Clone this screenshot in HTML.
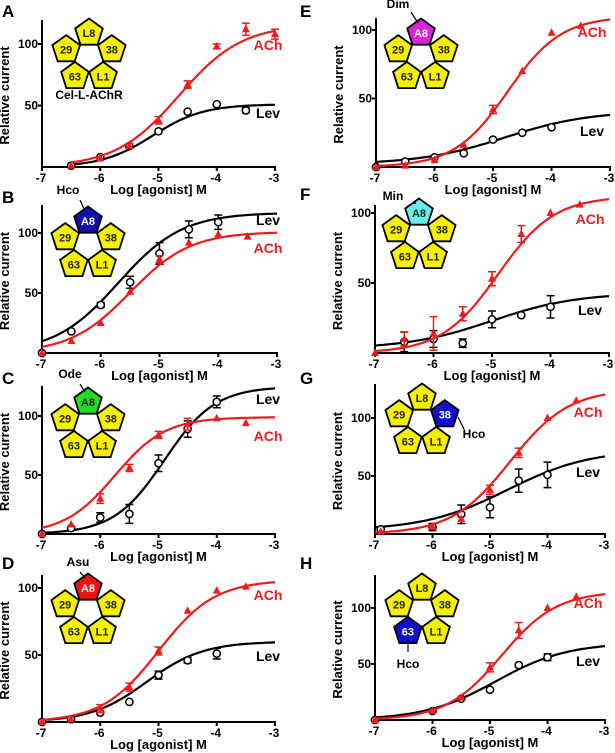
<!DOCTYPE html>
<html><head><meta charset="utf-8">
<style>
html,body{margin:0;padding:0;background:#fff;}
svg{display:block;font-family:"Liberation Sans",Arial,sans-serif;}
</style></head>
<body>
<svg id="fig" width="615" height="753" viewBox="0 0 615 753" xmlns="http://www.w3.org/2000/svg"></svg>
<script>
// ---- data (x = log[agonist] M, y = relative current) ----
const A_ach_x=[-6.5,-6,-5.5,-5,-4.5,-4,-3.5,-3];
const A_ach_y=[1,7,17,38,67,98,112,108];
const A_ach_e=[0,0,2,3,3,2,5,4];
const A_ach_fit=[0,116,-4.65,0.8];
const A_lev_x=[-6.5,-6,-5.5,-5,-4.5,-4,-3.5];
const A_lev_y=[1,8,17,29,45,51,46];
const A_lev_e=[0,0,0,0,0,0,2];
const A_lev_fit=[0,51,-5.1,1.0];

const B_ach_x=[-7,-6.5,-6,-5.5,-5,-4.5,-4,-3.5];
const B_ach_y=[0,10,25,51,78,92,99,97];
const B_ach_e=[0,0,0,0,3,0,0,0];
const B_ach_fit=[0,101,-5.5,0.85];
const B_lev_x=[-7,-6.5,-6,-5.5,-5,-4.5,-4];
const B_lev_y=[0,18,40,59,83,103,109];
const B_lev_e=[0,0,2,5,9,7,6];
const B_lev_fit=[0,117,-5.7,0.8];

const C_ach_x=[-7,-6.5,-6,-5.5,-5,-4.5,-4,-3.5];
const C_ach_y=[0,8,30,56,84,93,98,94];
const C_ach_e=[0,0,4,3,3,5,0,0];
const C_ach_fit=[0,99,-5.75,1.0];
const C_lev_x=[-7,-6.5,-6,-5.5,-5,-4.5,-4];
const C_lev_y=[0,5,14,17,60,89,112];
const C_lev_e=[0,0,4,8,7,7,5];
const C_lev_fit=[0,125,-4.9,1.0];

const D_ach_x=[-7,-6.5,-6,-5.5,-5,-4.5,-4,-3.5];
const D_ach_y=[0,2,10,26,53,83,98,101];
const D_ach_e=[0,0,3,3,3,0,0,0];
const D_ach_fit=[0,106,-5.0,0.9];
const D_lev_x=[-7,-6.5,-6,-5.5,-5,-4.5,-4];
const D_lev_y=[0,2,7,15,35,46,51];
const D_lev_e=[0,0,0,0,3,2,4];
const D_lev_fit=[0,60,-5.2,0.9];

const E_ach_x=[-7,-6.5,-6,-5.5,-5,-4.5,-4,-3.5];
const E_ach_y=[0,1,5,16,42,70,98,103];
const E_ach_e=[0,0,0,0,3,0,0,0];
const E_ach_fit=[0,110,-4.75,0.95];
const E_lev_x=[-7,-6.5,-6,-5.5,-5,-4.5,-4];
const E_lev_y=[0,4,7,10,20,25,29];
const E_lev_e=[0,0,0,0,0,0,0];
const E_lev_fit=[2,41,-4.8,0.6];

const F_ach_x=[-7,-6.5,-6,-5.5,-5,-4.5,-4,-3.5];
const F_ach_y=[0,10,14,28,53,85,100,106];
const F_ach_e=[0,5,12,5,5,6,0,0];
const F_ach_fit=[0,112,-4.9,0.9];
const F_lev_x=[-6.5,-6,-5.5,-5,-4.5,-4];
const F_lev_y=[8,10,7,24,27,33];
const F_lev_e=[7,6,3,6,0,8];
const F_lev_fit=[3,43,-5.0,0.6];

const G_ach_x=[-6.9,-6,-5.5,-5,-4.5,-4,-3.5];
const G_ach_y=[2,6,13,38,70,100,115];
const G_ach_e=[0,0,0,4,4,0,0];
const G_ach_fit=[0,125,-4.65,0.85];
const G_lev_x=[-6.9,-6,-5.5,-5,-4.5,-4];
const G_lev_y=[4,6,17,23,46,51];
const G_lev_e=[2,3,8,9,10,11];
const G_lev_fit=[3,73,-4.7,0.6];

const H_ach_x=[-7,-6,-5.5,-5,-4.5,-4,-3.5];
const H_ach_y=[0,8,20,47,80,100,110];
const H_ach_e=[0,0,0,4,7,0,0];
const H_ach_fit=[0,115,-4.8,0.9];
const H_lev_x=[-7,-6,-5.5,-5,-4.5,-4];
const H_lev_y=[0,8,19,27,49,56];
const H_lev_e=[0,0,0,0,0,3];
const H_lev_fit=[0,69,-4.9,0.7];

const xTicks=[-7,-6,-5,-4,-3];
const yTicks=[50,100];

const DATA={
 A:[A_ach_x,A_ach_y,A_ach_e,A_ach_fit,A_lev_x,A_lev_y,A_lev_e,A_lev_fit],
 B:[B_ach_x,B_ach_y,B_ach_e,B_ach_fit,B_lev_x,B_lev_y,B_lev_e,B_lev_fit],
 C:[C_ach_x,C_ach_y,C_ach_e,C_ach_fit,C_lev_x,C_lev_y,C_lev_e,C_lev_fit],
 D:[D_ach_x,D_ach_y,D_ach_e,D_ach_fit,D_lev_x,D_lev_y,D_lev_e,D_lev_fit],
 E:[E_ach_x,E_ach_y,E_ach_e,E_ach_fit,E_lev_x,E_lev_y,E_lev_e,E_lev_fit],
 F:[F_ach_x,F_ach_y,F_ach_e,F_ach_fit,F_lev_x,F_lev_y,F_lev_e,F_lev_fit],
 G:[G_ach_x,G_ach_y,G_ach_e,G_ach_fit,G_lev_x,G_lev_y,G_lev_e,G_lev_fit],
 H:[H_ach_x,H_ach_y,H_ach_e,H_ach_fit,H_lev_x,H_lev_y,H_lev_e,H_lev_fit]
};

// ---- layout ----
const PANELS=[
 {id:'A',x0:42,x1:275,base:167,y100:44,top:20,lx:2,ly:17,ring:[89,57],cols:['y','y','y','y','y'],achL:[268,50],levL:[268,118],cel:true,achStart:-6.5},
 {id:'B',x0:42,x1:277,base:353,y100:233,top:205,lx:2,ly:203,ring:[88,245],cols:['#1010b0','y','y','y','y'],tag:['Hco',68,194,80,200],achL:[268,253],levL:[268,225]},
 {id:'C',x0:42,x1:275,base:534,y100:416,top:386,lx:2,ly:384,ring:[88,426],cols:['#22dd22','y','y','y','y'],tag:['Ode',70,378,80,384],achL:[268,441],levL:[268,404],a8dark:true},
 {id:'D',x0:42,x1:275,base:722,y100:588,top:575,lx:2,ly:569,ring:[88,612],cols:['#ee1111','y','y','y','y'],tag:['Asu',78,566,80,572],achL:[268,600],levL:[268,661]},
 {id:'E',x0:376,x1:610,base:167,y100:30,top:18,lx:300,ly:17,ring:[421,57],cols:['#dd22dd','y','y','y','y'],tag:['Dim',398,8,411,12],achL:[592,37],levL:[592,136]},
 {id:'F',x0:375,x1:609,base:353,y100:213,top:205,lx:300,ly:200,ring:[419,237],cols:['#66eeee','y','y','y','y'],tag:['Min',393,200,411,204],achL:[590,224],levL:[590,315],a8dark:true},
 {id:'G',x0:375,x1:605,base:534,y100:418,top:384,lx:300,ly:384,ring:[422,422],cols:['y','y','#1010d0','y','y'],tag:['Hco',474,438,466,426],achL:[588,417],levL:[588,477],tagLine:[458,417,464,429]},
 {id:'H',x0:375,x1:605,base:720,y100:608,top:575,lx:300,ly:569,ring:[422,612],cols:['y','y','y','#1010d0','y'],tag:['Hco',408,668,0,0],achL:[588,608],levL:[588,666],tagLine:[408,638,408,652]}
];

const NS='http://www.w3.org/2000/svg';
const svg=document.getElementById('fig');
function mk(tag,attrs,parent){const e=document.createElementNS(NS,tag);for(const k in attrs)e.setAttribute(k,attrs[k]);(parent||svg).appendChild(e);return e;}
function txt(s,attrs,parent){const e=mk('text',attrs,parent);e.textContent=s;return e;}
function hill(x,f){return f[0]+(f[1]-f[0])/(1+Math.pow(10,(f[2]-x)*f[3]));}

function pentagon(cx,cy,r,rot){let p=[];for(let i=0;i<5;i++){const a=(rot+i*72)*Math.PI/180;p.push((cx+r*Math.cos(a)).toFixed(1)+','+(cy+r*Math.sin(a)).toFixed(1));}return p.join(' ');}

PANELS.forEach(P=>{
 const g=mk('g',{});
 
 
 const sx=v=>P.x0+(v+7)/4*(P.x1-P.x0);
 const sy=v=>P.base-(v/100)*(P.base-P.y100);
 const [ax,ay,ae,af,lx,ly,le,lf]=DATA[P.id];

 const lt=txt(P.id,{x:P.lx,y:P.ly,'font-size':17,'font-weight':'bold',fill:'#000'},g);
 
 

 const axes=mk('g',{},g);
 
 
 mk('line',{x1:P.x0,y1:P.top,x2:P.x0,y2:P.base+1,stroke:'#000','stroke-width':2},axes);
 mk('line',{x1:P.x0-1,y1:P.base,x2:P.x1+1,y2:P.base,stroke:'#000','stroke-width':2},axes);
 xTicks.forEach(t=>{
  mk('line',{x1:sx(t),y1:P.base,x2:sx(t),y2:P.base+4,stroke:'#000','stroke-width':2},axes);
  const tl=txt(String(t),{x:sx(t)-1,y:P.base+15,'font-size':12,'font-weight':'bold','text-anchor':'middle'},axes);
  
  
 });
 yTicks.forEach(t=>{
  mk('line',{x1:P.x0-4,y1:sy(t),x2:P.x0,y2:sy(t),stroke:'#000','stroke-width':2},axes);
  const tl=txt(String(t),{x:P.x0-4,y:sy(t)+4,'font-size':12,'font-weight':'bold','text-anchor':'end'},axes);
  
  
 });
 const xt=txt('Log [agonist] M',{x:(P.x0+P.x1)/2,y:P.base+27,'font-size':13,'font-weight':'bold','text-anchor':'middle'},g);
 
 
 const ycx=P.x0-33, ycy=(P.top+P.base)/2+2;
 const yt=txt('Relative current',{x:ycx,y:ycy,'font-size':13,'font-weight':'bold','text-anchor':'middle',transform:'rotate(-90 '+ycx+' '+ycy+')'},g);
 
 

 const ring=mk('g',{},g);
 
 
 const labels=['A8','29','38','63','L1'];
 if(P.id==='A'||P.id==='G'||P.id==='H')labels[0]='L8';
 const angs=[-90,-162,-18,126,54];
 labels.forEach((lab,i)=>{
  const a=angs[i]*Math.PI/180, d=24;
  const cx=P.ring[0]+d*Math.cos(a), cy=P.ring[1]+d*Math.sin(a);
  const col=P.cols[i]==='y'?'#f5f000':P.cols[i];
  const pg=mk('polygon',{points:pentagon(cx,cy,14.5,angs[i]),fill:col,stroke:'#000','stroke-width':1.8},ring);
  
  
  const dark=P.cols[i]!=='y'&&!(i===0&&P.a8dark);
  txt(lab,{x:cx,y:cy+4,'font-size':11,'font-weight':'bold','text-anchor':'middle',fill:dark?'#fff':'#222'},ring);
 });
 if(P.cel){const c=txt('Cel-L-AChR',{x:P.ring[0],y:P.ring[1]+42,'font-size':12,'font-weight':'bold','text-anchor':'middle'},ring);}
 if(P.tag){
  const t=txt(P.tag[0],{x:P.tag[1],y:P.tag[2],'font-size':12,'font-weight':'bold','text-anchor':'middle'},ring);
  
  
  if(P.tagLine)mk('line',{x1:P.tagLine[0],y1:P.tagLine[1],x2:P.tagLine[2],y2:P.tagLine[3],stroke:'#000','stroke-width':1.2},ring);
  else mk('line',{x1:P.tag[3],y1:P.tag[4],x2:P.ring[0]-3,y2:P.ring[1]-34,stroke:'#000','stroke-width':1.2},ring);
 }

 function series(xs,ys,es,fit,color,isAch,name){
  const s=mk('g',{},g);
  
  
  let d='';const start=isAch&&P.achStart?P.achStart:(P.id==='A'?-6.5:-7);
  for(let i=0;i<=80;i++){const x=start+(-3-start)*i/80;d+=(i?'L':'M')+sx(x).toFixed(1)+','+sy(hill(x,fit)).toFixed(1);}
  const c=mk('path',{d:d,fill:'none',stroke:color,'stroke-width':2.2},s);
  
  
  xs.forEach((x,i)=>{
   const px=sx(x), py=sy(ys[i]);
   if(es[i]>0){
    const e1=sy(ys[i]+es[i]), e2=sy(ys[i]-es[i]);
    mk('path',{d:`M${px},${e1}V${e2}M${px-4},${e1}H${px+4}M${px-4},${e2}H${px+4}`,stroke:color,'stroke-width':1.5,fill:'none'},s);
   }
   let m;
   if(isAch)m=mk('polygon',{points:`${px},${py-4.5} ${px-4},${py+3} ${px+4},${py+3}`,fill:color},s);
   else m=mk('circle',{cx:px,cy:py,r:3.6,fill:'#fff',stroke:color,'stroke-width':1.5},s);
   
   
  });
 }
 series(lx,ly,le,lf,'#000',false,'lev-series');
 series(ax,ay,ae,af,'#ee1c1c',true,'ach-series');

 const la=txt('ACh',{x:P.achL[0],y:P.achL[1],'font-size':14,'font-weight':'bold','text-anchor':'middle',fill:'#ee1c1c'},g);
 
 
 const ll=txt('Lev',{x:P.levL[0],y:P.levL[1],'font-size':14,'font-weight':'bold','text-anchor':'middle',fill:'#000'},g);
 
 
});
</script>
</body></html>
